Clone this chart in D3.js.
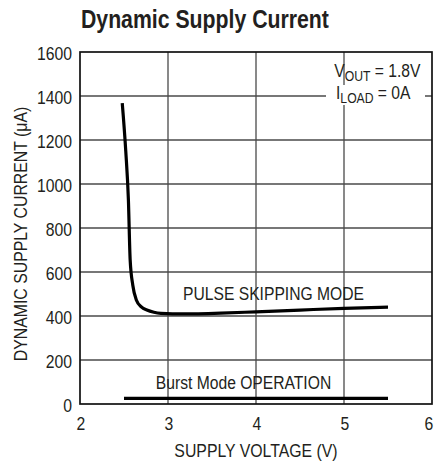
<!DOCTYPE html>
<html>
<head>
<meta charset="utf-8">
<script src="https://cdn.jsdelivr.net/npm/d3@7"></script>
<style>
  body { margin: 0; background: #fff; }
  text { font-family: "Liberation Sans", Arial, sans-serif; fill: #231f20; }
</style>
</head>
<body>
<div id="chart"></div>
<script>
"use strict";

// values
const xTicks = [2, 3, 4, 5, 6];
const yTicks = [0, 200, 400, 600, 800, 1000, 1200, 1400, 1600];
const pulseV = [2.48, 2.52, 2.55, 2.57, 2.60, 2.64, 2.70, 2.76, 2.84, 2.92, 3.05, 3.3, 3.6, 4.0, 4.5, 5.0, 5.5];
const pulseI = [1368, 1150, 927, 655, 540, 473, 440, 427, 417, 412, 410, 410, 413, 419, 427, 435, 440];
const burstV = [2.5, 5.5];
const burstI = [26, 26];

const width = 435, height = 463;
const margin = { top: 52, right: 3, bottom: 59, left: 80 };

const svg = d3.select("#chart")
   .append("svg")
   .attr("width", width)
   .attr("height", height);

const x = d3.scaleLinear().domain([2, 6]).range([margin.left, width - margin.right]);
const y = d3.scaleLinear().domain([0, 1600]).range([height - margin.bottom, margin.top]);

// narrow text: the reference uses a condensed face, so squeeze Liberation Sans
function label(parent, px, py, str, size, anchor, sx, rot) {
   const g = parent.append("g")
      .attr("transform", `translate(${px},${py})${rot ? " rotate(-90)" : ""} scale(${sx},1)`);
   const t = g.append("text")
      .attr("text-anchor", anchor)
      .attr("font-size", size);
   if (str !== null) t.text(str);
   return t;
}

// grid
svg.append("g")
   .selectAll("line")
   .data(xTicks.slice(1, -1))
   .join("line")
   .attr("x1", d => x(d)).attr("x2", d => x(d))
   .attr("y1", y(1600)).attr("y2", y(0))
   .attr("stroke", "#4a4a4a").attr("stroke-width", 1.3);

svg.append("g")
   .selectAll("line")
   .data(yTicks.slice(1, -1))
   .join("line")
   .attr("x1", x(2)).attr("x2", x(6))
   .attr("y1", d => y(d)).attr("y2", d => y(d))
   .attr("stroke", "#4a4a4a").attr("stroke-width", 1.3);

// frame
svg.append("rect")
   .attr("x", x(2)).attr("y", y(1600))
   .attr("width", x(6) - x(2)).attr("height", y(0) - y(1600))
   .attr("fill", "none").attr("stroke", "#111").attr("stroke-width", 1.7);

// tick labels
const yLab = svg.append("g");
yTicks.forEach(d => label(yLab, x(2) - 8, y(d) + 8, d, 17.5, "end", 0.9));

// last x label sits right at the page edge, keep it inside
const xLab = svg.append("g");
xTicks.forEach(d => label(xLab, Math.min(x(d) + 1, width - 6), 429.5, d, 17.5, "middle", 0.9));

// axis titles
label(svg, 256, 456.5, "SUPPLY VOLTAGE (V)", 18, "middle", 0.88);
label(svg, 27, 234, "DYNAMIC SUPPLY CURRENT (\u03BCA)", 18, "middle", 0.88, true);

// title
label(svg, 81, 28, "Dynamic Supply Current", 25, "start", 0.85)
   .attr("font-weight", "bold");

// curves
const line = d3.line().curve(d3.curveMonotoneX);

svg.append("path")
   .datum(pulseV.map((v, i) => [x(v), y(pulseI[i])]))
   .attr("d", line)
   .attr("fill", "none").attr("stroke", "#000").attr("stroke-width", 3.2);

svg.append("path")
   .datum(burstV.map((v, i) => [x(v), y(burstI[i])]))
   .attr("d", line)
   .attr("fill", "none").attr("stroke", "#000").attr("stroke-width", 3.2);

// curve labels
label(svg, 273.5, 300, "PULSE SKIPPING MODE", 18, "middle", 0.87);
label(svg, 243.5, 389, "Burst Mode OPERATION", 18, "middle", 0.87);

// conditions
svg.append("rect")
   .attr("x", 326).attr("y", 85)
   .attr("width", 99).attr("height", 20)
   .attr("fill", "#fff");

const cond1 = label(svg, 420.5, 77, null, 18, "end", 0.87);
cond1.append("tspan").text("V");
cond1.append("tspan").attr("dy", 4).attr("font-size", 14).text("OUT");
cond1.append("tspan").attr("dy", -4).text(" = 1.8V");

const cond2 = label(svg, 410.5, 99, null, 18, "end", 0.87);
cond2.append("tspan").text("I");
cond2.append("tspan").attr("dy", 4).attr("font-size", 14).text("LOAD");
cond2.append("tspan").attr("dy", -4).text(" = 0A");
</script>
</body>
</html>
